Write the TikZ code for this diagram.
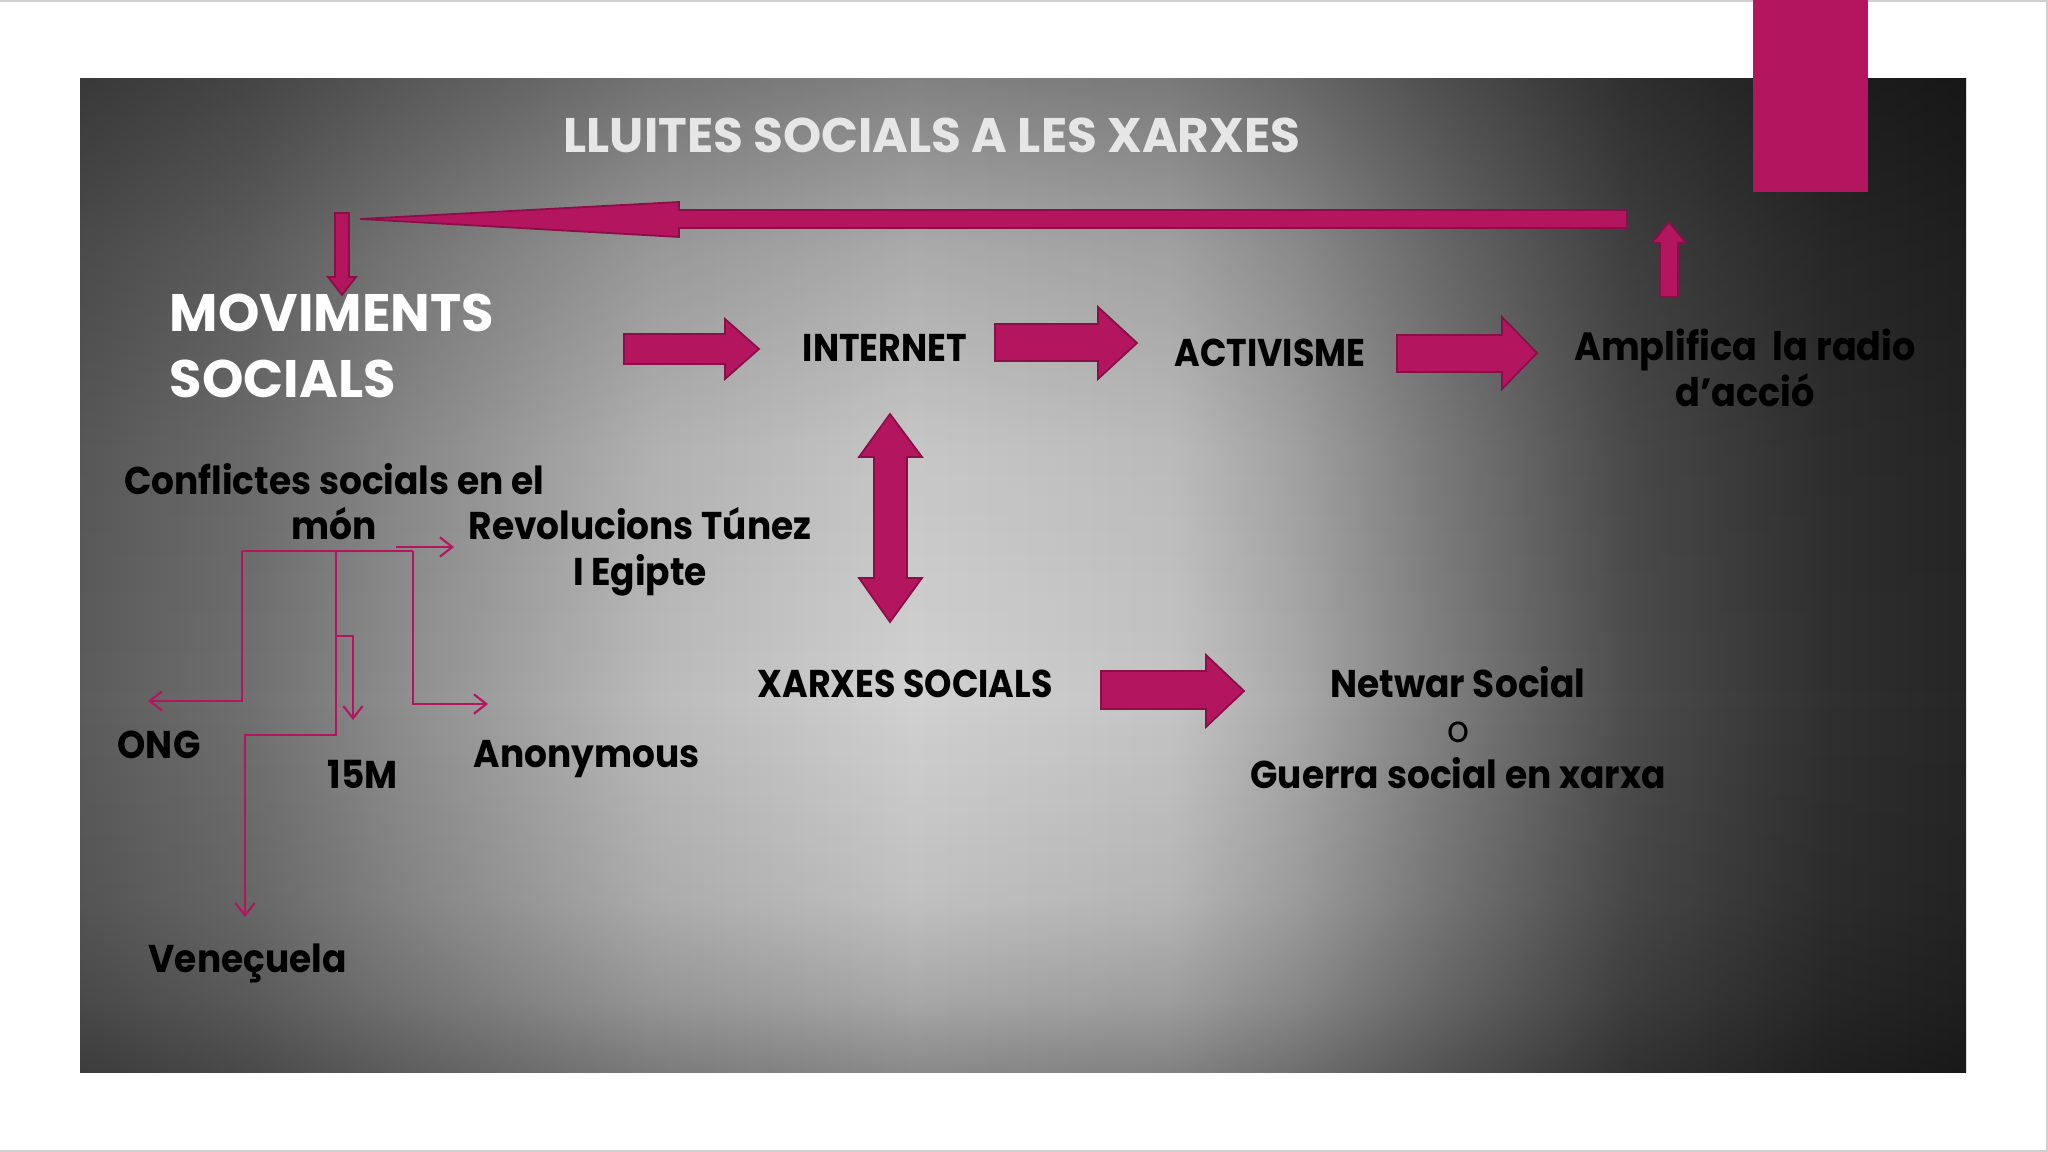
\documentclass[tikz,border=0pt]{standalone}
\usepackage{fontspec}
\setmainfont{Poppins}[FakeStretch=0.93]
\newfontfamily\titlefont{Poppins}
\newfontfamily\narrowfont[FakeStretch=0.9]{Poppins}
\usetikzlibrary{arrows.meta}

\definecolor{xarxamag}{HTML}{B3155F}
\definecolor{xarxaedge}{HTML}{8A0E48}
\definecolor{titlegray}{HTML}{E6E6E6}
\definecolor{framegray}{HTML}{D0D0D0}

% background of the panel: horizontal profile times vertical profile
\pgfdeclarehorizontalshading{panelh}{100bp}{rgb(0bp)=(.36,.36,.36); rgb(25bp)=(.36,.36,.36);
  rgb(29.5bp)=(.44,.44,.44); rgb(33.3bp)=(.55,.55,.55); rgb(40.2bp)=(.73,.73,.73);
  rgb(47.1bp)=(.82,.82,.82); rgb(54bp)=(.77,.77,.77); rgb(57.3bp)=(.66,.66,.66);
  rgb(61bp)=(.50,.50,.50); rgb(66.1bp)=(.30,.30,.30); rgb(71.3bp)=(.19,.19,.19);
  rgb(75bp)=(.15,.15,.15); rgb(100bp)=(.15,.15,.15)}
\pgfdeclareverticalshading{panelv}{100bp}{rgb(0bp)=(.66,.66,.66); rgb(25bp)=(.66,.66,.66);
  rgb(28.6bp)=(.80,.80,.80); rgb(33.6bp)=(.92,.92,.92); rgb(43.7bp)=(1,1,1);
  rgb(56.3bp)=(.95,.95,.95); rgb(66.3bp)=(.82,.82,.82); rgb(75bp)=(.62,.62,.62);
  rgb(100bp)=(.62,.62,.62)}

\begin{document}
\begin{tikzpicture}[x=0.01cm, y=-0.01cm,
    blockarrow/.style={fill=xarxamag, draw=xarxaedge, line width=0.5pt, line join=miter},
    treeline/.style={draw=xarxamag, line width=0.6pt},
    treearrow/.style={treeline, -{Straight Barb[length=3.5pt, width=5.5pt]}},
    txt/.style={font=\bfseries\fontsize{11}{12.8}\selectfont, text=black, inner sep=0pt, align=center, anchor=base},
    boxtext/.style={font=\narrowfont\bfseries\fontsize{11}{12.8}\selectfont, text=black, inner sep=0pt, anchor=base},
    titletext/.style={font=\titlefont\bfseries\fontsize{13.8}{16}\selectfont, text=titlegray, inner sep=0pt, anchor=base},
    movtext/.style={font=\titlefont\bfseries\fontsize{15}{18.8}\selectfont, text=white, inner sep=0pt, align=left, anchor=base west}]

    \useasboundingbox (0,0) rectangle (2048,1152);
    \fill[white] (0,0) rectangle (2048,1152);
    \draw[framegray, line width=0.6pt] (0,1) -- (2047,1) -- (2047,1151) -- (0,1151);

    % panel
    \shade[shading=panelh] (80,79) rectangle (1966,1072);
    \shade[shading=panelv, blend mode=multiply] (80,79) rectangle (1966,1072);
    \fill[xarxamag] (1753,0) rectangle (1868,192);

    % title and main nodes (multi-line nodes sit on their last line)
    \node[titletext] (title) at (932,153) {LLUITES SOCIALS A LES XARXES};
    \node[movtext] (moviments) at (169,398) {MOVIMENTS\\SOCIALS};
    \node[boxtext] (internet) at (885,362) {INTERNET};
    \node[boxtext] (activisme) at (1270,367) {ACTIVISME};
    \node[txt, font=\bfseries\fontsize{11.2}{12.3}\selectfont] (amplifica) at (1745,407) {Amplifica\ \ la radio\\d’acció};
    \node[boxtext] (xarxes) at (905,697) {XARXES SOCIALS};
    \node[txt] (netwar) at (1458,788) {Netwar Social\\{\mdseries\fontsize{10.5}{10}\selectfont o}\\Guerra social en xarxa};

    % block arrows
    \draw[blockarrow] (1627,210) -- (679,210) -- (679,202) -- (360,219) -- (679,237) -- (679,228) -- (1627,228) -- cycle;
    \draw[blockarrow] (335,213) -- (349,213) -- (349,277) -- (356,277) -- (342,295) -- (328,277) -- (335,277) -- cycle;
    \draw[blockarrow] (1660,297) -- (1660,243) -- (1652,243) -- (1669,222) -- (1686,243) -- (1678,243) -- (1678,297) -- cycle;
    \draw[blockarrow] (624,334) -- (725,334) -- (725,319) -- (759,349) -- (725,379) -- (725,364) -- (624,364) -- cycle;
    \draw[blockarrow] (995,324) -- (1098,324) -- (1098,307) -- (1137,343) -- (1098,379) -- (1098,361) -- (995,361) -- cycle;
    \draw[blockarrow] (1397,335) -- (1502,335) -- (1502,317) -- (1537,353) -- (1502,389) -- (1502,372) -- (1397,372) -- cycle;
    \draw[blockarrow] (890,414) -- (922,457) -- (907,457) -- (907,578) -- (922,578) -- (890,622) -- (859,578) -- (874,578) -- (874,457) -- (859,457) -- cycle;
    \draw[blockarrow] (1101,671) -- (1206,671) -- (1206,655) -- (1244,691) -- (1206,727) -- (1206,709) -- (1101,709) -- cycle;

    % conflicts tree
    \node[txt] (conflictes) at (334,540) {Conflictes socials en el\\món};
    \node[txt] (revolucions) at (640,585) {Revolucions Túnez\\I Egipte};
    \node[txt, anchor=base west] (ong) at (117,758) {ONG};
    \node[txt, anchor=base west] (m15) at (327,788) {15M};
    \node[txt, anchor=base west] (anonymous) at (473,767) {Anonymous};
    \node[txt, anchor=base west] (venecuela) at (148,972) {Veneçuela};

    \coordinate (forkL) at (242,551);
    \coordinate (forkM) at (336,551);
    \coordinate (forkR) at (413,551);
    \coordinate (fork15) at (336,636);
    \coordinate (venezbend) at (336,735);
    \coordinate (ongtip) at (148,701);
    \coordinate (veneztip) at (245,917);
    \coordinate (m15tip) at (353,720);
    \coordinate (anontip) at (488,704);
    \coordinate (revostart) at (396,547);
    \coordinate (revotip) at (454,547);

    \draw[treeline] (forkL) -- (forkR);
    \draw[treearrow] (forkL) |- (ongtip);
    \draw[treearrow] (forkM) -- (venezbend) -| (veneztip);
    \draw[treearrow] (fork15) -| (m15tip);
    \draw[treearrow] (forkR) |- (anontip);
    \draw[treearrow] (revostart) -- (revotip);

\end{tikzpicture}
\end{document}
